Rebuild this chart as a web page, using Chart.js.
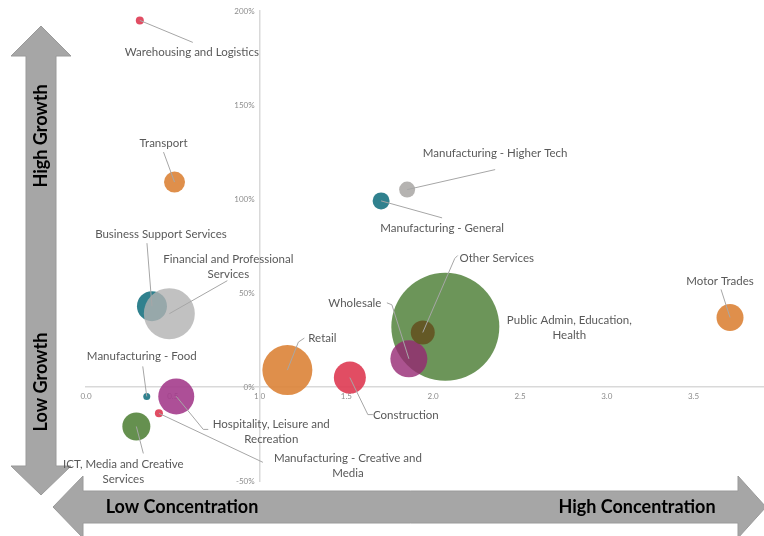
<!DOCTYPE html>
<html>
<head>
<meta charset="utf-8">
<script src="https://cdn.jsdelivr.net/npm/chart.js@4/dist/chart.umd.min.js"></script>
<style>
  html, body { margin: 0; padding: 0; background: #ffffff; }
  #wrap { width: 764px; height: 536px; position: relative; }
</style>
</head>
<body>
<div id="wrap"><canvas id="c" width="764" height="536"></canvas></div>
<script>
// ---------------- data ----------------
const categories = [
  "Warehousing and Logistics",
  "Transport",
  "Manufacturing - Higher Tech",
  "Manufacturing - General",
  "Business Support Services",
  "Financial and Professional Services",
  "Manufacturing - Food",
  "Hospitality, Leisure and Recreation",
  "Manufacturing - Creative and Media",
  "ICT, Media and Creative Services",
  "Retail",
  "Construction",
  "Public Admin, Education, Health",
  "Wholesale",
  "Other Services",
  "Motor Trades"
];
// concentration (location quotient)
const concentration = [0.31, 0.51, 1.85, 1.70, 0.38, 0.48, 0.35, 0.52, 0.42, 0.29, 1.16, 1.52, 2.07, 1.86, 1.94, 3.71];
// growth (%)
const growth = [195, 109, 105, 99, 43, 39, -5, -5, -14, -21, 9, 5, 32, 15, 29, 37];
// bubble size
const bubbleSize = [4, 10.5, 8, 8.5, 15, 25.5, 3.5, 18, 4, 14, 25, 16, 54, 18.5, 12, 13.5];

const xTickValues = [0, 0.5, 1, 1.5, 2, 2.5, 3, 3.5];
const yTickValues = [-50, 0, 50, 100, 150, 200];

// ---------------- styles ----------------
const C = {
  red: 'rgba(222,62,86,0.92)',
  orange: 'rgba(220,133,60,0.92)',
  grey: 'rgba(175,172,170,0.92)',
  lgrey: 'rgba(178,178,178,0.80)',
  teal: 'rgba(30,118,132,0.92)',
  green: 'rgba(84,132,60,0.90)',
  dgreen: 'rgba(88,134,66,0.88)',
  purple: 'rgba(164,60,140,0.90)',
  wpurple: 'rgba(150,40,115,0.80)',
  brown: 'rgba(100,80,30,0.85)'
};
const pointColors = [C.red, C.orange, C.grey, C.teal, C.teal, C.lgrey, C.teal, C.purple, C.red, C.green, C.orange, C.red, C.dgreen, C.wpurple, C.brown, C.orange];

// label placement: text centre and leader polyline, offsets in px from bubble centre
const labelLayout = {
  "Warehousing and Logistics": { t: [52, 32], leader: [[53, 22]] },
  "Transport": { t: [-11, -39], leader: [[-11, -30]] },
  "Manufacturing - Higher Tech": { t: [88, -36], leader: [[88, -20]] },
  "Manufacturing - General": { t: [61, 27], leader: [[61, 17]] },
  "Business Support Services": { t: [9, -72], leader: [[-5, -63]] },
  "Financial and Professional Services": { t: [59, -47], lines: ["Financial and Professional", "Services"], leader: [[58, -33]] },
  "Manufacturing - Food": { t: [-5, -40], leader: [[-4, -30]] },
  "Hospitality, Leisure and Recreation": { t: [95, 35], lines: ["Hospitality, Leisure and", "Recreation"], leader: [[27, 33], [32, 33]] },
  "Manufacturing - Creative and Media": { t: [189, 52], lines: ["Manufacturing - Creative and", "Media"], leader: [[104, 49]] },
  "ICT, Media and Creative Services": { t: [-13, 45], lines: ["ICT, Media and Creative", "Services"], leader: [[7, 27]] },
  "Retail": { t: [35, -32], leader: [[11, -28], [17, -32]] },
  "Construction": { t: [56, 38], leader: [[18, 37], [23, 37]] },
  "Public Admin, Education, Health": { t: [124, 1], lines: ["Public Admin, Education,", "Health"] },
  "Wholesale": { t: [-54, -56], leader: [[-17, -54], [-22, -56]] },
  "Other Services": { t: [74, -74], leader: [[32, -74], [35, -77]] },
  "Motor Trades": { t: [-10, -36], leader: [[-9, -28]] }
};

// ---------------- plugins ----------------
const arrowsPlugin = {
  id: 'arrows',
  beforeDraw(chart) {
    const ctx = chart.ctx;
    ctx.save();
    ctx.fillStyle = '#a6a6a6';
    ctx.strokeStyle = '#9a9a9a';
    ctx.lineWidth = 1;
    // vertical double arrow
    const vx = 41, vs = 15, vh = 30;
    ctx.beginPath();
    ctx.moveTo(vx, 26);
    ctx.lineTo(vx + vh, 56);
    ctx.lineTo(vx + vs, 56);
    ctx.lineTo(vx + vs, 466);
    ctx.lineTo(vx + vh, 466);
    ctx.lineTo(vx, 495);
    ctx.lineTo(vx - vh, 466);
    ctx.lineTo(vx - vs, 466);
    ctx.lineTo(vx - vs, 56);
    ctx.lineTo(vx - vh, 56);
    ctx.closePath();
    ctx.fill(); ctx.stroke();
    // horizontal double arrow
    const hy = 507, hs = 16, hh = 31;
    ctx.beginPath();
    ctx.moveTo(53, hy);
    ctx.lineTo(83, hy - hh);
    ctx.lineTo(83, hy - hs);
    ctx.lineTo(738, hy - hs);
    ctx.lineTo(738, hy - hh);
    ctx.lineTo(766, hy);
    ctx.lineTo(738, hy + hh);
    ctx.lineTo(738, hy + hs);
    ctx.lineTo(83, hy + hs);
    ctx.lineTo(83, hy + hh);
    ctx.closePath();
    ctx.fill(); ctx.stroke();
    // arrow texts
    ctx.fillStyle = '#000000';
    ctx.font = 'bold 18px Lato, "Open Sans", sans-serif';
    ctx.textAlign = 'center';
    ctx.textBaseline = 'middle';
    ctx.fillText('Low Concentration', 182, hy);
    ctx.fillText('High Concentration', 637, hy);
    ctx.save();
    ctx.translate(vx, 136);
    ctx.rotate(-Math.PI / 2);
    ctx.fillText('High Growth', 0, 0);
    ctx.restore();
    ctx.save();
    ctx.translate(vx, 382);
    ctx.rotate(-Math.PI / 2);
    ctx.fillText('Low Growth', 0, 0);
    ctx.restore();
    ctx.restore();
  }
};

const labelsPlugin = {
  id: 'bubbleLabels',
  afterDatasetsDraw(chart) {
    const ctx = chart.ctx;
    const meta = chart.getDatasetMeta(0);
    ctx.save();
    ctx.strokeStyle = '#a6a6a6';
    ctx.lineWidth = 1;
    ctx.fillStyle = '#595959';
    ctx.font = '11.5px Lato, "Open Sans", sans-serif';
    ctx.textAlign = 'center';
    ctx.textBaseline = 'middle';
    const lineH = 15;
    meta.data.forEach((pt, i) => {
      const L = labelLayout[categories[i]];
      if (!L) return;
      const cx = pt.x, cy = pt.y;
      if (L.leader) {
        ctx.beginPath();
        ctx.moveTo(cx, cy);
        L.leader.forEach(([dx, dy]) => ctx.lineTo(cx + dx, cy + dy));
        ctx.stroke();
      }
      const lines = L.lines || [categories[i]];
      lines.forEach((t, k) => {
        ctx.fillText(t, cx + L.t[0], cy + L.t[1] + (k - (lines.length - 1) / 2) * lineH);
      });
    });
    ctx.restore();
  }
};

// ---------------- chart ----------------
const points = categories.map((c, i) => ({ x: concentration[i], y: growth[i], r: bubbleSize[i] }));

new Chart(document.getElementById('c'), {
  type: 'bubble',
  data: {
    datasets: [{
      label: 'Sectors',
      data: points,
      backgroundColor: pointColors,
      borderWidth: 0,
      hoverBorderWidth: 0,
      clip: false
    }]
  },
  options: {
    responsive: false,
    animation: false,
    events: [],
    layout: { autoPadding: false, padding: { left: 86, right: 1, top: 11, bottom: 55 } },
    plugins: { legend: { display: false }, tooltip: { enabled: false } },
    scales: {
      x: {
        type: 'linear',
        min: 0, max: 3.9,
        position: { y: 0 },
        afterFit: (s) => { s.height = 0; },
        afterBuildTicks: (s) => { s.ticks = xTickValues.map(v => ({ value: v })); },
        grid: { display: false, tickLength: 0 },
        border: { display: true, color: '#d9d9d9', width: 1.5 },
        ticks: {
          padding: 5,
          color: '#8c8c8c',
          font: { family: 'Lato, "Open Sans", sans-serif', size: 8 },
          callback: (v) => Number(v).toFixed(1)
        }
      },
      y: {
        type: 'linear',
        min: -50, max: 200,
        position: { x: 1 },
        afterFit: (s) => { s.width = 0; },
        afterBuildTicks: (s) => { s.ticks = yTickValues.map(v => ({ value: v })); },
        grid: { display: false, tickLength: 0 },
        border: { display: true, color: '#d9d9d9', width: 1.5 },
        ticks: {
          padding: 5,
          color: '#8c8c8c',
          font: { family: 'Lato, "Open Sans", sans-serif', size: 8 },
          callback: (v) => v + '%\u2002\u2009'
        }
      }
    }
  },
  plugins: [arrowsPlugin, labelsPlugin]
});
</script>
</body>
</html>
